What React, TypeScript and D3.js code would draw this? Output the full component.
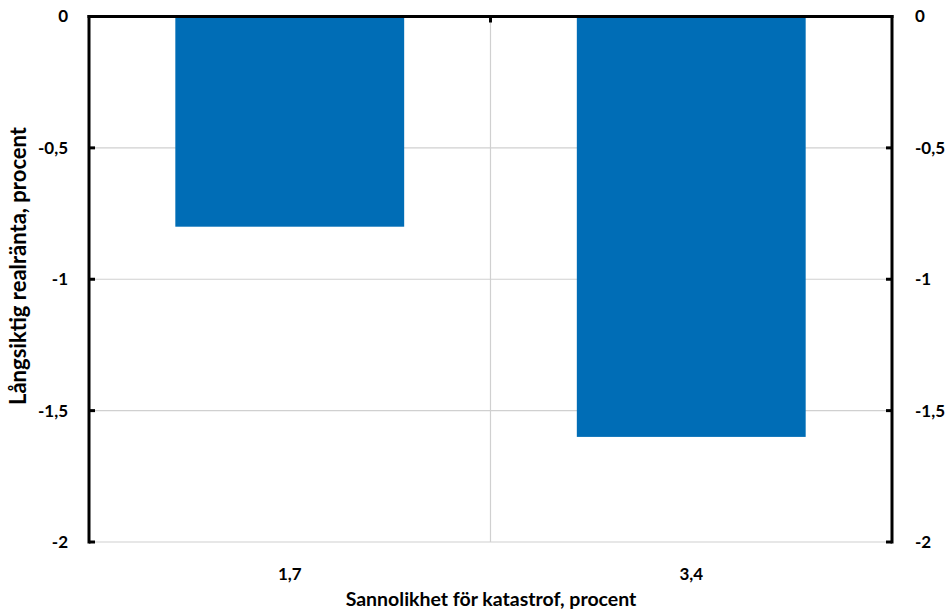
import React from "react";
import * as d3 from "d3";

const categories = ["1,7", "3,4"];
const values = [-0.8, -1.6];
const yTicks = [0, -0.5, -1, -1.5, -2];
const yTickLabels = ["0", "-0,5", "-1", "-1,5", "-2"];
const yTitle = "Långsiktig realränta, procent";
const xTitle = "Sannolikhet för katastrof, procent";

const W = 949;
const H = 609;
const left = 89;
const right = 892;
const top = 16.5;
const bottom = 542;
const font = "Lato, 'Open Sans', sans-serif";
const barColor = "#006db6";

export default function App() {
  const x = d3.scaleBand<string>().domain(categories).range([left, right]).paddingInner(0.43).paddingOuter(0.215);
  const xOuter = d3.scaleBand<string>().domain(categories).range([left, right]);
  const y = d3.scaleLinear().domain([0, -2]).range([top, bottom]);

  return (
    <svg width={W} height={H} style={{ position: "absolute", left: 0, top: 0, background: "#fff" }}>
      {/* horizontal gridlines */}
      {yTicks.map((t) => (
        <line key={"g" + t} x1={left} x2={right} y1={y(t)} y2={y(t)} stroke="#d0d0d0" strokeWidth={1.2} />
      ))}
      {/* vertical gridline between categories */}
      {categories.slice(1).map((c) => (
        <line key={"v" + c} x1={xOuter(c)!} x2={xOuter(c)!} y1={top} y2={bottom} stroke="#d0d0d0" strokeWidth={1.2} />
      ))}
      {/* bars */}
      {categories.map((c, i) => (
        <rect
          key={c}
          x={x(c)!}
          y={y(0)}
          width={x.bandwidth()}
          height={y(values[i]) - y(0)}
          fill={barColor}
        />
      ))}
      {/* value axes */}
      <line x1={left} x2={left} y1={top - 1.5} y2={bottom + 1.5} stroke="#000" strokeWidth={3} />
      <line x1={right} x2={right} y1={top - 1.5} y2={bottom + 1.5} stroke="#000" strokeWidth={3} />
      {yTicks.map((t) => (
        <g key={"t" + t}>
          <line x1={left} x2={left + 6} y1={y(t)} y2={y(t)} stroke="#000" strokeWidth={3} />
          <line x1={right - 6} x2={right} y1={y(t)} y2={y(t)} stroke="#000" strokeWidth={3} />
        </g>
      ))}
      {/* category axis at zero */}
      <line x1={left - 1.5} x2={right + 1.5} y1={y(0)} y2={y(0)} stroke="#000" strokeWidth={3} />
      {categories.slice(1).map((c) => (
        <line key={"ct" + c} x1={xOuter(c)!} x2={xOuter(c)!} y1={y(0)} y2={y(0) + 6} stroke="#000" strokeWidth={3} />
      ))}
      {/* tick labels */}
      {yTicks.map((t, i) => (
        <g key={"l" + t} fontFamily={font} fontWeight={700} fontSize={17} fill="#000">
          <text x={68} y={y(t)} dy="0.35em" textAnchor="end">{yTickLabels[i]}</text>
          <text x={915} y={y(t)} dy="0.35em" textAnchor="start">{yTickLabels[i]}</text>
        </g>
      ))}
      {categories.map((c) => (
        <text
          key={"cl" + c}
          x={xOuter(c)! + xOuter.bandwidth() / 2}
          y={580}
          textAnchor="middle"
          fontFamily={font}
          fontWeight={700}
          fontSize={17}
        >
          {c}
        </text>
      ))}
      <text x={491} y={606} textAnchor="middle" fontFamily={font} fontWeight={700} fontSize={19.5}>
        {xTitle}
      </text>
      <text
        transform={`translate(26, 266) rotate(-90)`}
        textAnchor="middle"
        fontFamily={font}
        fontWeight={700}
        fontSize={22}
      >
        {yTitle}
      </text>
    </svg>
  );
}
